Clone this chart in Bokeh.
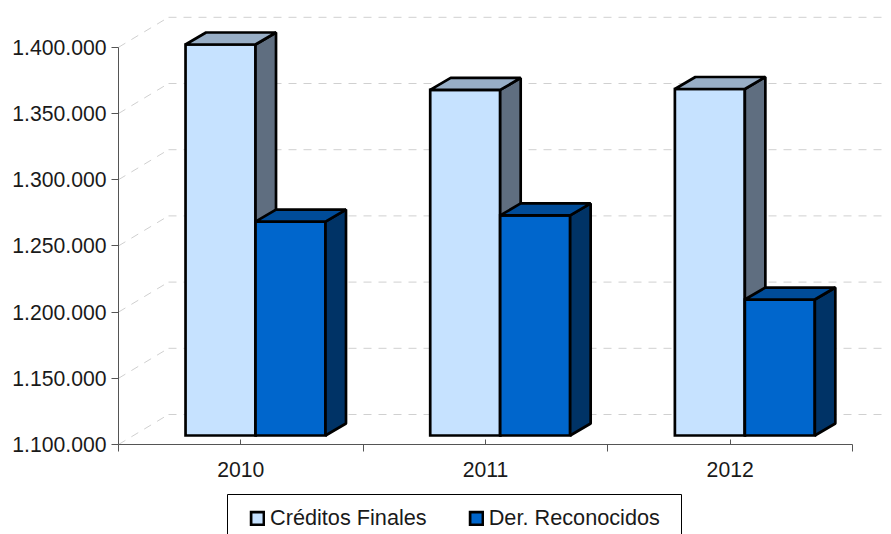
from bokeh.plotting import figure
from bokeh.models import FixedTicker, Legend, LegendItem, BoxAnnotation, Range1d, LinearAxis
from bokeh.embed import file_html
from bokeh.resources import INLINE

years = ["2010", "2011", "2012"]
creditos = [1395300, 1361000, 1361700]
derechos = [1261600, 1266200, 1202700]
y_ticks = [1100000, 1150000, 1200000, 1250000, 1300000, 1350000, 1400000]
y_labels = ["1.100.000", "1.150.000", "1.200.000", "1.250.000", "1.300.000", "1.350.000", "1.400.000"]
names = ["Créditos Finales", "Der. Reconocidos"]
light = ("#C6E2FF", "#98AEC6", "#5F6E80")
dark = ("#0066CC", "#004C99", "#003366")

FONT = "Liberation Sans"
PX_X = 1 / 244.67          # data units per pixel
PX_Y = 50000 / 66.2
base = 1100000
lift = 9 * PX_Y            # bar floor above the axis
depth_x, depth_y = 20.5 * PX_X, 12 * PX_Y
wall_x, wall_y = 50 * PX_X, 30 * PX_Y
bar_w = 0.286
bar_off = 0.274
grid_end = 765 * PX_X

p = figure(width=891, height=534, output_backend="svg", toolbar_location=None,
           x_range=Range1d(-118 * PX_X, 773 * PX_X), y_range=Range1d(base - 90 * PX_Y, base + 444 * PX_Y),
           min_border_left=0, min_border_right=0, min_border_top=0, min_border_bottom=0,
           outline_line_color=None, background_fill_color="white", x_axis_location=None, y_axis_location=None)
p.grid.visible = False

# back wall grid
GRID = dict(line_color="#D0D0D0", line_width=1, line_dash="8 7")
for t in y_ticks:
    p.line([0, wall_x], [t, t + wall_y], **GRID)
    p.line([wall_x, grid_end], [t + wall_y, t + wall_y], **GRID)

def bar(x0, v, cols):
    x1 = x0 + bar_w
    y0, y1 = base + lift, v + lift
    front = p.quad(left=[x0], right=[x1], bottom=[y0], top=[y1], fill_color=cols[0],
                   line_color="black", line_width=2.7, line_join="miter")
    p.patch([x1, x1 + depth_x, x1 + depth_x, x1], [y0, y0 + depth_y, y1 + depth_y, y1],
            fill_color=cols[2], line_color="black", line_width=2.7)
    p.patch([x0, x0 + depth_x, x1 + depth_x, x1], [y1, y1 + depth_y, y1 + depth_y, y1],
            fill_color=cols[1], line_color="black", line_width=2.7)
    return front

r1 = r2 = None
for i in range(len(years)):
    r1 = bar(i + bar_off, creditos[i], light)
for i in range(len(years)):
    r2 = bar(i + bar_off + bar_w, derechos[i], dark)

# axes
xa = LinearAxis(fixed_location=base)
ya = LinearAxis(fixed_location=0)
p.add_layout(xa, "below")
p.add_layout(ya, "left")
xa.ticker = FixedTicker(ticks=[0.5, 1.5, 2.5], minor_ticks=[0, 1, 2, 3])
xa.major_label_overrides = {i + 0.5: y for i, y in enumerate(years)}
xa.bounds = (0, 3)
xa.major_tick_in, xa.major_tick_out = 5, 0
xa.minor_tick_in, xa.minor_tick_out = 0, 7
xa.major_label_standoff = 10
ya.ticker = FixedTicker(ticks=y_ticks, minor_ticks=[])
ya.major_label_overrides = dict(zip(y_ticks, y_labels))
ya.bounds = (base, y_ticks[-1])
ya.major_tick_in, ya.major_tick_out = 0, 7
ya.major_label_standoff = 5
for a in (xa, ya):
    a.axis_line_color = "#555555"
    a.major_tick_line_color = "#555555"
    a.minor_tick_line_color = "#555555"
    a.major_label_text_font = FONT
    a.major_label_text_font_size = "21.2px"
    a.major_label_text_color = "#1a1a1a"

# legend box, open at the bottom edge of the page
box = BoxAnnotation(left=227, right=681, top=494, bottom=545,
                    left_units="canvas", right_units="canvas", top_units="canvas", bottom_units="canvas",
                    fill_color="white", fill_alpha=1, line_color="black", line_width=1, line_alpha=1)
p.add_layout(box)
legend = Legend(items=[LegendItem(label=names[0], renderers=[r1]), LegendItem(label=names[1], renderers=[r2])],
                orientation="horizontal", location=(249, 3), padding=4, margin=0, spacing=41,
                glyph_width=16, glyph_height=16, label_standoff=5, border_line_color=None,
                background_fill_alpha=0, label_text_font=FONT, label_text_font_size="21.7px",
                label_text_color="#1a1a1a", label_height=20)
p.add_layout(legend, "center")

open("out.html", "w").write(file_html(p, INLINE))
